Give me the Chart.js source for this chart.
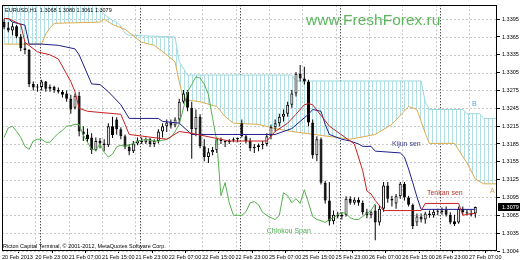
<!DOCTYPE html>
<html>
<head>
<meta charset="utf-8">
<title>EURUSD H1 Ichimoku</title>
<script src="https://cdn.jsdelivr.net/npm/chart.js@4.4.1/dist/chart.umd.min.js"></script>
<style>
  html, body { margin: 0; padding: 0; background: #fff; overflow: hidden; }
  canvas { display: block; }
</style>
</head>
<body>
<canvas id="chart" width="520" height="260"></canvas>
<script>
// hourly bars, index 0 = 20 Feb 2013 15:00
const xTickIdx = [0, 8, 16, 24, 32, 40, 48, 56, 64, 72, 80, 88, 96, 104, 112];
const xTickLabels = ['20 Feb 2013', '20 Feb 23:00', '21 Feb 07:00', '21 Feb 15:00', '21 Feb 23:00', '22 Feb 07:00', '22 Feb 15:00', '22 Feb 23:00',
    '25 Feb 07:00', '25 Feb 15:00', '25 Feb 23:00', '26 Feb 07:00', '26 Feb 15:00', '26 Feb 23:00', '27 Feb 07:00'];
const daySeparators = [9, 33, 57, 81, 105];

const yTicks = [1.3395, 1.3365, 1.3335, 1.3305, 1.3275, 1.3245, 1.3215, 1.3185, 1.3155, 1.3125, 1.3095, 1.3065, 1.3035, 1.3005];
const yTickLabels = ['1.3395', '1.3365', '1.3335', '1.3305', '1.3275', '1.3245', '1.3215', '1.3185', '1.3155', '1.3125', '1.3095', '1.3065', '1.3035', '1.3004'];

const opens = [1.3390,1.3381,1.3376,1.3383,1.3366,1.3346,1.3343,1.3286,1.3280,1.3281,
    1.3290,1.3278,1.3281,1.3276,1.3273,1.3270,1.3261,1.3246,1.3266,1.3206,
    1.3201,1.3196,1.3175,1.3190,1.3186,1.3183,1.3215,1.3226,1.3210,1.3198,
    1.3180,1.3173,1.3186,1.3191,1.3188,1.3193,1.3185,1.3190,1.3206,1.3215,
    1.3221,1.3216,1.3226,1.3256,1.3273,1.3246,1.3210,1.3231,1.3181,1.3163,
    1.3171,1.3175,1.3193,1.3190,1.3188,1.3191,1.3193,1.3220,1.3198,1.3190,
    1.3178,1.3180,1.3183,1.3185,1.3198,1.3213,1.3220,1.3231,1.3236,1.3251,
    1.3270,1.3303,1.3295,1.3290,1.3221,1.3166,1.3193,1.3120,1.3090,1.3055,
    1.3066,1.3063,1.3066,1.3093,1.3086,1.3091,1.3086,1.3070,1.3065,1.3073,
    1.3053,1.3076,1.3115,1.3093,1.3085,1.3097,1.3118,1.3095,1.3083,1.3053,
    1.3063,1.3058,1.3068,1.3065,1.3071,1.3070,1.3075,1.3066,1.3055,1.3053,
    1.3076,1.3070,1.3068,1.3068];
const highs = [1.3395,1.3390,1.3388,1.3385,1.3370,1.3356,1.3345,1.3290,1.3286,1.3293,
    1.3291,1.3285,1.3283,1.3280,1.3276,1.3275,1.3268,1.3270,1.3273,1.3215,
    1.3211,1.3203,1.3196,1.3195,1.3193,1.3220,1.3231,1.3230,1.3213,1.3201,
    1.3185,1.3190,1.3196,1.3196,1.3196,1.3195,1.3193,1.3210,1.3220,1.3226,
    1.3226,1.3230,1.3261,1.3276,1.3276,1.3256,1.3243,1.3235,1.3193,1.3178,
    1.3180,1.3196,1.3196,1.3191,1.3193,1.3196,1.3196,1.3226,1.3201,1.3195,
    1.3185,1.3186,1.3190,1.3203,1.3218,1.3226,1.3236,1.3243,1.3256,1.3276,
    1.3306,1.3318,1.3315,1.3293,1.3226,1.3198,1.3196,1.3123,1.3121,1.3073,
    1.3071,1.3070,1.3097,1.3097,1.3095,1.3095,1.3090,1.3076,1.3073,1.3083,
    1.3081,1.3121,1.3121,1.3098,1.3101,1.3121,1.3121,1.3098,1.3085,1.3068,
    1.3068,1.3071,1.3073,1.3075,1.3076,1.3078,1.3080,1.3070,1.3066,1.3080,
    1.3080,1.3075,1.3075,1.3080];
const lows = [1.3378,1.3373,1.3368,1.3363,1.3341,1.3336,1.3281,1.3275,1.3273,1.3275,
    1.3273,1.3273,1.3271,1.3270,1.3263,1.3256,1.3236,1.3243,1.3198,1.3190,
    1.3188,1.3168,1.3173,1.3178,1.3173,1.3180,1.3195,1.3201,1.3193,1.3176,
    1.3166,1.3170,1.3183,1.3185,1.3185,1.3180,1.3180,1.3186,1.3196,1.3205,
    1.3211,1.3213,1.3220,1.3253,1.3240,1.3160,1.3198,1.3178,1.3156,1.3153,
    1.3166,1.3170,1.3185,1.3180,1.3185,1.3188,1.3188,1.3196,1.3186,1.3173,
    1.3170,1.3173,1.3176,1.3181,1.3193,1.3206,1.3215,1.3223,1.3231,1.3246,
    1.3265,1.3290,1.3285,1.3215,1.3160,1.3156,1.3117,1.3085,1.3048,1.3050,
    1.3060,1.3058,1.3063,1.3083,1.3083,1.3081,1.3066,1.3060,1.3060,1.3023,
    1.3048,1.3071,1.3086,1.3080,1.3076,1.3093,1.3090,1.3080,1.3042,1.3047,
    1.3053,1.3051,1.3061,1.3061,1.3065,1.3066,1.3063,1.3050,1.3047,1.3051,
    1.3066,1.3065,1.3063,1.3061];
const closes = [1.3381,1.3376,1.3383,1.3366,1.3346,1.3343,1.3286,1.3280,1.3281,1.3290,
    1.3278,1.3281,1.3276,1.3273,1.3268,1.3261,1.3243,1.3266,1.3206,1.3201,
    1.3193,1.3175,1.3190,1.3186,1.3183,1.3215,1.3200,1.3210,1.3198,1.3180,
    1.3173,1.3186,1.3191,1.3188,1.3193,1.3185,1.3190,1.3206,1.3215,1.3221,
    1.3216,1.3226,1.3256,1.3270,1.3246,1.3210,1.3231,1.3181,1.3163,1.3171,
    1.3175,1.3193,1.3190,1.3188,1.3191,1.3193,1.3195,1.3198,1.3190,1.3178,
    1.3180,1.3183,1.3185,1.3198,1.3213,1.3220,1.3231,1.3236,1.3251,1.3270,
    1.3303,1.3295,1.3290,1.3221,1.3166,1.3193,1.3120,1.3090,1.3055,1.3066,
    1.3063,1.3066,1.3093,1.3086,1.3091,1.3086,1.3070,1.3065,1.3070,1.3053,
    1.3076,1.3115,1.3093,1.3090,1.3097,1.3118,1.3095,1.3083,1.3047,1.3063,
    1.3058,1.3068,1.3065,1.3071,1.3070,1.3073,1.3066,1.3053,1.3050,1.3076,
    1.3070,1.3068,1.3066,1.3079];

const tenkanIdx = [0,1,4,5,8,11,13,16,17,18,20,28,29,30,39,42,45,54,63,65,68,70,72,73,74,78,82,83,84,86,87,88,89,91,100,101,109,110,112,113];
const tenkan = [1.3396,1.3396,1.3386,1.3356,1.3340,1.3335,1.3328,1.3290,1.3273,1.3245,1.3240,1.3235,1.3218,1.3201,1.3193,1.3206,1.3203,1.3190,1.3190,1.3206,
    1.3220,1.3235,1.3251,1.3253,1.3251,1.3215,1.3195,1.3190,1.3185,1.3140,1.3106,1.3101,1.3090,1.3073,1.3073,1.3085,1.3085,1.3065,1.3068,1.3068];

const kijunIdx = [0,1,2,5,6,9,13,17,18,21,23,25,28,30,37,38,42,45,65,69,71,73,74,76,77,78,81,83,85,86,88,89,95,96,97,98,99,100,113];
const kijun = [1.3396,1.3396,1.3390,1.3385,1.3353,1.3353,1.3351,1.3345,1.3335,1.3286,1.3285,1.3273,1.3251,1.3228,1.3228,1.3223,1.3220,1.3201,1.3201,1.3211,
    1.3223,1.3235,1.3243,1.3240,1.3218,1.3201,1.3193,1.3190,1.3185,1.3181,1.3181,1.3173,1.3170,1.3163,1.3143,1.3120,1.3096,1.3075,1.3075];

const senkouAIdx = [0,9,10,11,12,23,24,26,29,33,36,39,41,42,43,47,51,53,55,61,65,69,83,89,93,97,99,101,102,108,111,113,115,119];
const senkouA = [1.3353,1.3353,1.3370,1.3380,1.3388,1.3390,1.3395,1.3386,1.3378,1.3356,1.3351,1.3335,1.3323,1.3290,1.3260,1.3256,1.3248,1.3231,1.3220,1.3218,
    1.3211,1.3206,1.3193,1.3201,1.3218,1.3248,1.3243,1.3203,1.3186,1.3186,1.3153,1.3126,1.3118,1.3118];

const senkouBIdx = [0,21,22,23,24,25,26,27,28,29,30,41,42,44,69,70,100,101,102,110,111,114,115,119];
const senkouB = [1.3440,1.3440,1.3415,1.3410,1.3403,1.3398,1.3393,1.3390,1.3383,1.3371,1.3368,1.3365,1.3323,1.3301,1.3301,1.3291,1.3291,1.3256,1.3243,1.3243,
    1.3236,1.3236,1.3228,1.3228];

// chinkou span, one value per bar from index 0
const chikou = [1.3196,1.3212,1.3215,1.3206,1.3196,1.3181,1.3176,1.3190,1.3193,1.3193,
    1.3188,1.3188,1.3196,1.3203,1.3208,1.3215,1.3216,1.3218,1.3218,1.3200,
    1.3188,1.3176,1.3175,1.3185,1.3171,1.3163,1.3168,1.3180,1.3183,1.3181,
    1.3183,1.3186,1.3190,1.3191,1.3193,1.3191,1.3190,1.3190,1.3191,1.3193,
    1.3196,1.3206,1.3218,1.3245,1.3273,1.3285,1.3298,1.3296,1.3286,1.3268,
    1.3228,1.3190,1.3098,1.3120,1.3086,1.3065,1.3065,1.3065,1.3071,1.3086,
    1.3088,1.3083,1.3070,1.3065,1.3061,1.3058,1.3065,1.3103,1.3098,1.3086,
    1.3093,1.3085,1.3108,1.3086,1.3063,1.3058,1.3056,1.3053,1.3058,1.3061,
    1.3066,1.3070,1.3068,1.3061,1.3058,1.3058,1.3063,1.3068,1.3073,1.3085];

const FONT = "'Liberation Sans', Arial, sans-serif";
const lastClose = closes[closes.length - 1];

const notes = [
    { text: 'www.FreshForex.ru', bar: 72.4, price: 1.3385, color: '#5cb85c', size: 15.5, base: 'alphabetic' },
    { text: 'Kijun sen', bar: 93, price: 1.3185, color: '#3c3c8c', size: 7 },
    { text: 'Tenkan sen', bar: 101.4, price: 1.3103, color: '#b53a30', size: 7 },
    { text: 'Chinkou Span', bar: 63, price: 1.3038, color: '#4caf50', size: 7 },
    { text: 'B', bar: 112.2, price: 1.3252, color: '#5f9fd0', size: 7 },
    { text: 'A', bar: 116.5, price: 1.3105, color: '#e0a040', size: 7 }
];

const hatchTile = document.createElement('canvas');
hatchTile.width = 4; hatchTile.height = 1;
const ht = hatchTile.getContext('2d');
ht.fillStyle = '#afe0e6';
ht.fillRect(0, 0, 1, 1);

const canvas = document.getElementById('chart');
const hatch = canvas.getContext('2d').createPattern(hatchTile, 'repeat');

const pts = (idx, vals) => idx.map((x, i) => ({ x, y: vals[i] }));

const decor = {
    id: 'decor',
    beforeDatasetsDraw(chart) {
        const { ctx, chartArea: a, scales: { x, y } } = chart;
        ctx.save();
        ctx.lineWidth = 1;
        ctx.strokeStyle = '#c8c8c8';
        ctx.setLineDash([2, 2]);
        ctx.beginPath();
        yTicks.forEach(v => {
            const py = Math.round(y.getPixelForValue(v)) + 0.5;
            ctx.moveTo(a.left, py); ctx.lineTo(a.right, py);
        });
        xTickIdx.forEach(v => {
            const px = Math.round(x.getPixelForValue(v - 0.5)) + 0.5;
            ctx.moveTo(px, a.top); ctx.lineTo(px, a.bottom);
        });
        ctx.stroke();
        ctx.strokeStyle = '#000';
        ctx.setLineDash([1, 2]);
        ctx.beginPath();
        daySeparators.forEach(v => {
            const px = Math.round(x.getPixelForValue(v - 0.5)) + 0.5;
            ctx.moveTo(px, a.top); ctx.lineTo(px, a.bottom);
        });
        ctx.stroke();
        ctx.restore();
    },
    afterDatasetsDraw(chart) {
        const { ctx, chartArea: a, scales: { x, y } } = chart;
        ctx.save();
        ctx.textAlign = 'left';
        notes.forEach(n => {
            ctx.font = `${n.size}px ${FONT}`;
            ctx.fillStyle = n.color;
            ctx.textBaseline = n.base || 'middle';
            ctx.fillText(n.text, x.getPixelForValue(n.bar), y.getPixelForValue(n.price));
        });
        ctx.font = `5.5px ${FONT}`;
        ctx.fillStyle = '#000';
        ctx.textBaseline = 'middle';
        ctx.fillText('EURUSD,H1  1.3068 1.3080 1.3061 1.3079', a.left + 3, a.top + 5);
        ctx.fillText('Ricton Capital Terminal, \u00a9 2001-2012, MetaQuotes Software Corp.', a.left + 1, a.bottom - 5);
        ctx.restore();
    },
    afterDraw(chart) {
        const { ctx, chartArea: a, scales: { y } } = chart;
        ctx.save();
        ctx.strokeStyle = '#000';
        ctx.lineWidth = 1;
        ctx.strokeRect(Math.round(a.left) + 0.5, Math.round(a.top) + 0.5, Math.round(a.right - a.left) - 1, Math.round(a.bottom - a.top) - 1);
        const py = Math.round(y.getPixelForValue(lastClose));
        ctx.fillStyle = '#000';
        ctx.fillRect(a.right + 1, py - 4, chart.width - a.right - 1, 8);
        ctx.fillStyle = '#fff';
        ctx.font = `5.5px ${FONT}`;
        ctx.textBaseline = 'middle';
        ctx.fillText(lastClose.toFixed(4), a.right + 5, py);
        ctx.restore();
    }
};

const line = (label, data, color, order, extra) => Object.assign({
    type: 'line', label, data, borderColor: color, borderWidth: 1, pointRadius: 0, tension: 0, order
}, extra || {});

new Chart(canvas, {
    type: 'bar',
    data: {
        datasets: [
            line('Senkou Span A', pts(senkouAIdx, senkouA), '#dcaa4a', 9),
            line('Senkou Span B', pts(senkouBIdx, senkouB), '#9fd6dd', 10, {
                fill: { target: 0, above: hatch, below: 'rgba(0,0,0,0)' }
            }),
            line('Chinkou Span', chikou.map((y, x) => ({ x, y })), '#55b04f', 4),
            {
                type: 'bar', label: 'wicks',
                data: lows.map((l, i) => ({ x: i, y: [l, highs[i]] })),
                backgroundColor: '#000', barThickness: 1, grouped: false, inflateAmount: 0, order: 6
            },
            {
                type: 'bar', label: 'bodies',
                data: opens.map((o, i) => ({ x: i, y: [o, closes[i]] })),
                backgroundColor: opens.map((o, i) => closes[i] >= o ? '#fff' : '#000'),
                borderColor: '#000', borderWidth: 1, borderSkipped: false,
                barThickness: 3, minBarLength: 1, grouped: false, inflateAmount: 0, order: 5
            },
            line('Kijun-sen', pts(kijunIdx, kijun), '#1f1f8a', 3),
            line('Tenkan-sen', pts(tenkanIdx, tenkan), '#c82020', 2)
        ]
    },
    options: {
        responsive: false,
        animation: false,
        devicePixelRatio: 1,
        events: [],
        layout: { padding: { left: 2, top: 3, right: 0, bottom: 0 } },
        plugins: { legend: { display: false }, tooltip: { enabled: false } },
        scales: {
            x: {
                type: 'linear', min: -0.5, max: 118.2, offset: false,
                grid: { drawOnChartArea: false, color: '#000', tickLength: 2 },
                border: { display: false },
                afterBuildTicks: s => { s.ticks = xTickIdx.map(v => ({ value: v - 0.5 })); },
                afterFit: s => { s.height = 9; },
                ticks: {
                    autoSkip: false, maxRotation: 0, align: 'start', padding: 1, color: '#000',
                    font: { family: FONT, size: 5.5 },
                    callback: v => xTickLabels[xTickIdx.indexOf(v + 0.5)] ?? ''
                }
            },
            y: {
                type: 'linear', position: 'right', min: 1.3005, max: 1.34183,
                grid: { drawOnChartArea: false, color: '#000', tickLength: 3 },
                border: { display: false },
                afterBuildTicks: s => { s.ticks = yTicks.map(v => ({ value: v })); },
                afterFit: s => { s.width = 23; },
                ticks: {
                    padding: 2, color: '#000',
                    font: { family: FONT, size: 5.5 },
                    callback: v => yTickLabels[yTicks.indexOf(v)] ?? ''
                }
            }
        }
    },
    plugins: [decor]
});
</script>
</body>
</html>
